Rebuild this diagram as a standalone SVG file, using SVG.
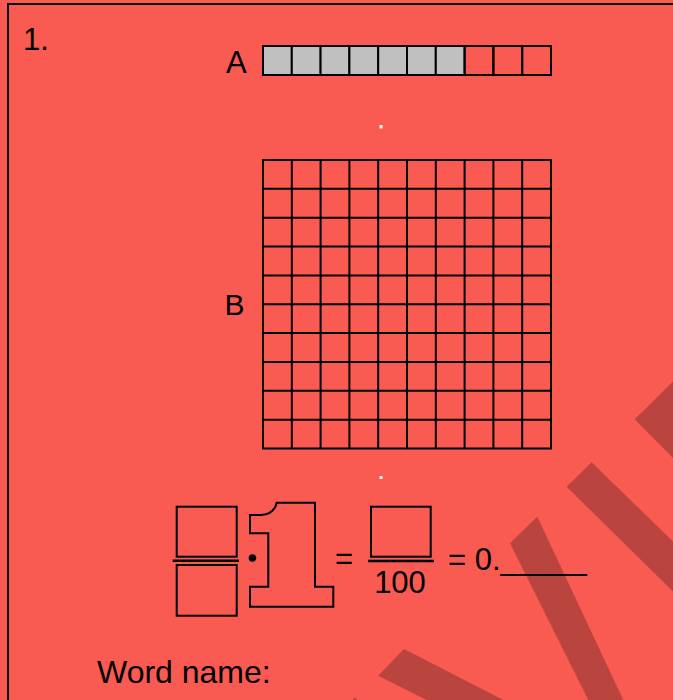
<svg xmlns="http://www.w3.org/2000/svg" width="673" height="700" viewBox="0 0 673 700">
  <style>
    .t { font-family: "Liberation Sans", Arial, sans-serif; fill: #000; }
    .ln { fill: none; stroke: #000; stroke-width: 2; }
    .stripe { fill: #BA443E; }
  </style>
  <rect x="0" y="0" width="673" height="700" fill="#F95A51"/>
  <g id="stripes">
    <polygon class="stripe" points="634.7,419.3 680,374.5 680,465"/>
    <polygon class="stripe" points="591.7,462.3 566.7,486.7 680,598.5 680,548.4"/>
    <polygon class="stripe" points="537.3,516.7 510,543.3 593.3,710 628,710"/>
    <polygon class="stripe" points="404,649 378.3,675.7 446.6,710 522.8,710"/>
    <polygon class="stripe" points="355,697.5 345,707.5 368,710"/>
  </g>
  <rect x="8" y="4" width="720" height="740" class="ln"/>
  <text class="t" x="23" y="50" font-size="31">1.</text>

  <g id="barA">
    <text class="t" x="226" y="73" font-size="31">A</text>
    <g fill="#C0C0C0" stroke="#000" stroke-width="2">
      <rect x="263" y="46" width="28.8" height="29"/>
      <rect x="291.8" y="46" width="28.8" height="29"/>
      <rect x="320.6" y="46" width="28.8" height="29"/>
      <rect x="349.4" y="46" width="28.8" height="29"/>
      <rect x="378.2" y="46" width="28.8" height="29"/>
      <rect x="407" y="46" width="28.8" height="29"/>
      <rect x="435.8" y="46" width="28.8" height="29"/>
    </g>
    <g fill="none" stroke="#000" stroke-width="2">
      <rect x="464.6" y="46" width="28.8" height="29"/>
      <rect x="493.4" y="46" width="28.8" height="29"/>
      <rect x="522.2" y="46" width="28.8" height="29"/>
    </g>
  </g>
  <rect x="379.5" y="125" width="3" height="3.5" fill="#FFFFFF"/>

  <g id="gridB">
    <text class="t" x="224.5" y="314.5" font-size="30">B</text>
    <rect x="263" y="160" width="288" height="288.5" class="ln"/>
    <path class="ln" d="M291.8,160V448.5M320.6,160V448.5M349.4,160V448.5M378.2,160V448.5M407,160V448.5M435.8,160V448.5M464.6,160V448.5M493.4,160V448.5M522.2,160V448.5
      M263,188.85H551M263,217.7H551M263,246.55H551M263,275.4H551M263,304.25H551M263,333.1H551M263,361.95H551M263,390.8H551M263,419.65H551"/>
  </g>
  <rect x="379.5" y="476" width="3" height="3" fill="#FFFFFF"/>

  <g id="fractionLeft">
    <rect x="176.7" y="506.7" width="60" height="50" class="ln"/>
    <line x1="172.7" y1="560.7" x2="239" y2="560.7" stroke="#000" stroke-width="2.5"/>
    <rect x="176.7" y="565" width="60" height="50.7" class="ln"/>
  </g>
  <circle id="dot" cx="252.5" cy="558" r="3.8" fill="#000"/>
  <g id="one">
    <path class="ln" d="M276.7,502.7H315V586.7H333.3V606.7H250V586.7H268.3V533.3H250V515H261Q274,514.5 276.7,502.7Z"/>
  </g>
  <text class="t" x="335" y="569" font-size="31">=</text>
  <g id="fractionRight">
    <rect x="371" y="506.7" width="59.7" height="50" class="ln"/>
    <line x1="368" y1="561" x2="434" y2="561" stroke="#000" stroke-width="2.5"/>
    <text class="t" x="400" y="593" font-size="31" text-anchor="middle">100</text>
  </g>
  <text class="t" x="448" y="569.5" font-size="31">= 0._____</text>
  <text class="t" x="97" y="683" font-size="32">Word name:</text>
</svg>
